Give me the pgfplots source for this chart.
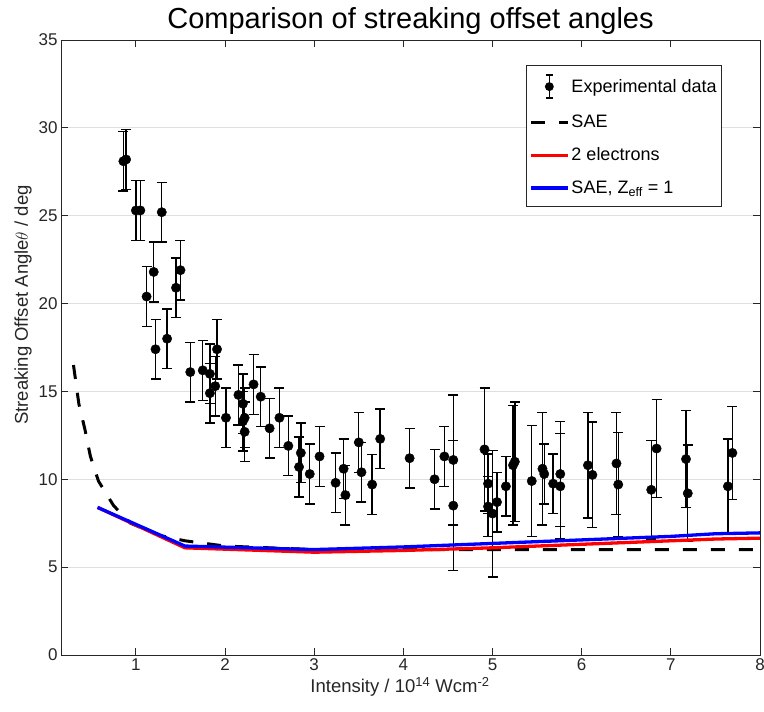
\documentclass[border=0pt]{standalone}
\usepackage{fontspec}
\setmainfont{Liberation Sans}
\usepackage{pgfplots}
\usepackage{pgfplotstable}
\pgfplotsset{compat=1.18}
\usetikzlibrary{calc}

\definecolor{axgray}{RGB}{38,38,38}
\definecolor{gridgray}{RGB}{223,223,223}

\pgfplotsset{linelegend/.style={legend image code/.code={\draw[##1] (0pt,0pt) -- (37pt,0pt);}}}

% experimental streaking offsets: intensity, angle, error
\pgfplotstableread{
x    y     e
0.86 28.1  1.7
0.89 28.2  1.7
1.00 25.3  1.7
1.05 25.3  1.7
1.29 25.2  1.7
1.12 20.4  1.7
1.20 21.8  1.7
1.22 17.4  1.7
1.35 18.0  1.7
1.45 20.9  1.7
1.50 21.9  1.7
1.61 16.1  1.7
1.75 16.2  1.7
1.83 16.0  1.7
1.83 14.9  1.7
1.89 15.3  1.7
1.91 17.4  1.7
2.01 13.5  1.7
2.15 14.8  1.7
2.20 14.3  1.7
2.22 13.5  1.7
2.20 13.3  1.7
2.22 12.7  1.7
2.32 15.4  1.7
2.40 14.7  1.7
2.50 12.9  1.7
2.61 13.5  1.7
2.71 11.9  1.7
2.85 11.5  1.7
2.83 10.7  1.7
2.95 10.3  1.7
3.06 11.3  1.7
3.24 9.8   1.7
3.33 10.6  1.7
3.35 9.1   1.7
3.50 12.1  1.7
3.53 10.4  1.7
3.65 9.7   1.7
3.74 12.3  1.7
4.07 11.2  1.7
4.35 10.0  1.7
4.46 11.3  1.7
4.56 11.1  3.7
4.56 8.5   3.7
4.91 11.7  3.5
4.95 9.75  1.7
4.95 8.45  1.7
5.00 8.05  3.6
5.05 8.7   1.7
5.15 9.6   1.7
5.23 10.8  3.4
5.25 11.0  3.4
5.44 9.9   3.15
5.56 10.6  3.2
5.58 10.3  1.7
5.68 9.75  1.7
5.76 10.3  3.0
5.76 9.6   3.0
6.07 10.8  3.0
6.12 10.25 3.0
6.39 10.9  2.9
6.41 9.7   2.95
6.78 9.4   2.8
6.84 11.75 2.8
7.17 11.15 2.75
7.19 9.2   2.75
7.64 9.6   2.7
7.69 11.5  2.65
}\expdata

\begin{document}
\begin{tikzpicture}
\begin{axis}[name=ax,
  scale only axis, width=699pt, height=615pt,
  xmin=0.16, xmax=8, ymin=0, ymax=35,
  xtick={1,2,...,8}, ytick={0,5,...,35},
  tick align=inside, major tick length=7pt,
  ymajorgrids, grid style={gridgray, line width=0.8pt},
  axis line style={axgray, line width=0.8pt},
  tick style={axgray, line width=0.8pt},
  ticklabel style={font=\fontsize{17}{17}\selectfont, text=axgray},
  /pgf/number format/assume math mode=true,
  title={Comparison of streaking offset angles},
  title style={font=\fontsize{29}{29}\selectfont, yshift=-4pt},
  xlabel={Intensity / 10\textsuperscript{14} Wcm\textsuperscript{-2}},
  ylabel={Streaking Offset Angle$\theta$ / deg},
  label style={font=\fontsize{18.5}{18.5}\selectfont, text=axgray},
  xlabel style={at={(ticklabel cs:0.485)}},
  ylabel style={at={(ticklabel cs:0.569)}},
  legend style={at={(0.9456,0.9593)}, anchor=north east,
    font=\fontsize{18}{18}\selectfont, draw=axgray, line width=0.8pt,
    inner xsep=3pt, inner ysep=9pt, row sep=14.5pt, cells={anchor=west}},
  legend cell align=left,
]
\addplot[black, only marks, mark=*, mark size=4.7pt,
  legend image code/.code={
    \draw[black, line width=1.4pt] (18.5pt,-11.5pt) -- (18.5pt,11.5pt)
      (15pt,-11.5pt) -- (22pt,-11.5pt) (15pt,11.5pt) -- (22pt,11.5pt);
    \fill[black] (18.5pt,0pt) circle (4pt);},
  error bars/.cd, y dir=both, y explicit,
  error bar style={line width=1.4pt, black},
  error mark options={rotate=90, mark size=5pt, line width=1.4pt, black}]
  table[x=x, y=y, y error=e] {\expdata};
\addlegendentry{Experimental data}
\addplot[black, line width=3pt, dash pattern=on 14pt off 14pt, linelegend]
  coordinates {(0.30,16.5) (0.36,14.3) (0.43,12.8) (0.49,11.3) (0.58,9.9)
    (0.75,8.5) (0.94,7.5) (1.27,6.8) (1.55,6.5) (2,6.2) (3,6.0) (4,6.0)
    (5,6.0) (6,6.0) (7,6.0) (8,6.0)};
\addlegendentry{SAE}
\addplot[red, line width=3.3pt, linelegend]
  coordinates {(0.57,8.4) (1.55,6.1) (3,5.85) (4,5.95) (5,6.1) (6,6.3)
    (7,6.5) (7.5,6.6) (8,6.65)};
\addlegendentry{2 electrons}
\addplot[blue, line width=3.3pt, linelegend]
  coordinates {(0.57,8.4) (1.55,6.2) (3,6.0) (4,6.15) (5,6.35) (6,6.55)
    (7,6.75) (7.5,6.9) (8,6.95)};
\addlegendentry{SAE, Z\textsubscript{eff} = 1}
\end{axis}
\pgfresetboundingbox
\path[use as bounding box] ($(ax.south west)+(-61pt,-57pt)$) rectangle ($(ax.north east)+(4pt,40pt)$);
\end{tikzpicture}
\end{document}
